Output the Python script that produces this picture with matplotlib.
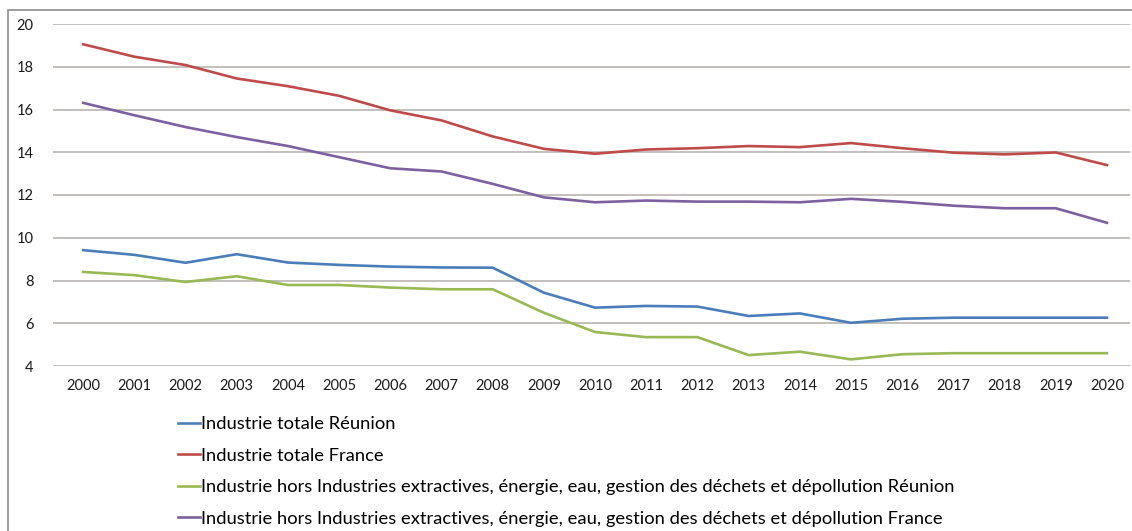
import matplotlib.pyplot as plt
from matplotlib.patches import Rectangle

plt.rcParams['font.family'] = ['Lato', 'DejaVu Sans']

years = [str(y) for y in range(2000, 2021)]

total_reunion = [9.42, 9.20, 8.83, 9.23, 8.84, 8.73, 8.65, 8.61, 8.60, 7.43, 6.73,
                 6.81, 6.78, 6.34, 6.46, 6.02, 6.21, 6.26, 6.26, 6.26, 6.26]
total_france = [19.05, 18.47, 18.08, 17.45, 17.09, 16.64, 15.96, 15.49, 14.74, 14.16, 13.93,
                14.13, 14.19, 14.29, 14.24, 14.43, 14.19, 13.98, 13.90, 13.99, 13.40]
hors_reunion = [8.40, 8.25, 7.93, 8.20, 7.79, 7.79, 7.67, 7.59, 7.59, 6.49, 5.59,
                5.35, 5.35, 4.51, 4.67, 4.31, 4.55, 4.60, 4.60, 4.60, 4.60]
hors_france = [16.31, 15.73, 15.18, 14.71, 14.29, 13.77, 13.25, 13.10, 12.52, 11.89, 11.66,
               11.74, 11.69, 11.69, 11.66, 11.82, 11.68, 11.50, 11.38, 11.38, 10.70]

labels = [
    "Industrie totale Réunion",
    "Industrie totale France",
    "Industrie hors Industries extractives, énergie, eau, gestion des déchets et dépollution Réunion",
    "Industrie hors Industries extractives, énergie, eau, gestion des déchets et dépollution France",
]
colors = ["#4a7ebb", "#be4b48", "#98b954", "#7d60a0"]
series = [total_reunion, total_france, hors_reunion, hors_france]

fig = plt.figure(figsize=(11.32, 5.31), dpi=100)
ax = fig.add_axes([53 / 1132, 1 - 366 / 531, (1130 - 53) / 1132, (366 - 24) / 531])

x = list(range(len(years)))
for vals, c, lab in zip(series, colors, labels):
    ax.plot(x, vals, color=c, lw=1.9, label=lab, solid_joinstyle='round')

ax.set_ylim(4, 20)
ax.set_yticks(range(4, 21, 2))
ax.set_xlim(-0.59, 20.45)
ax.set_xticks(x)
ax.set_xticklabels(years)
ax.grid(axis='y', color='#bdbab8', lw=1.3)
ax.set_axisbelow(True)
for s in ax.spines.values():
    s.set_visible(False)
ax.tick_params(length=0, labelsize=10.5, colors='#1a1a1a')
ax.tick_params(axis='y', pad=14)
ax.tick_params(axis='x', pad=9)

fig.legend(loc='upper left', bbox_to_anchor=(178 / 1132, 1 - 416 / 531),
           frameon=False, handlelength=1.2, handletextpad=0.03,
           labelspacing=0.85, fontsize=13.2, borderaxespad=0, borderpad=0)

# outer chart frame
fig.patches.append(Rectangle((8 / 1132, -0.01), 1.1, 1 - 10 / 531 + 0.01,
                             transform=fig.transFigure, fill=False,
                             edgecolor='#8c8c8c', lw=1.2))

fig.savefig("out.png", dpi=100)
